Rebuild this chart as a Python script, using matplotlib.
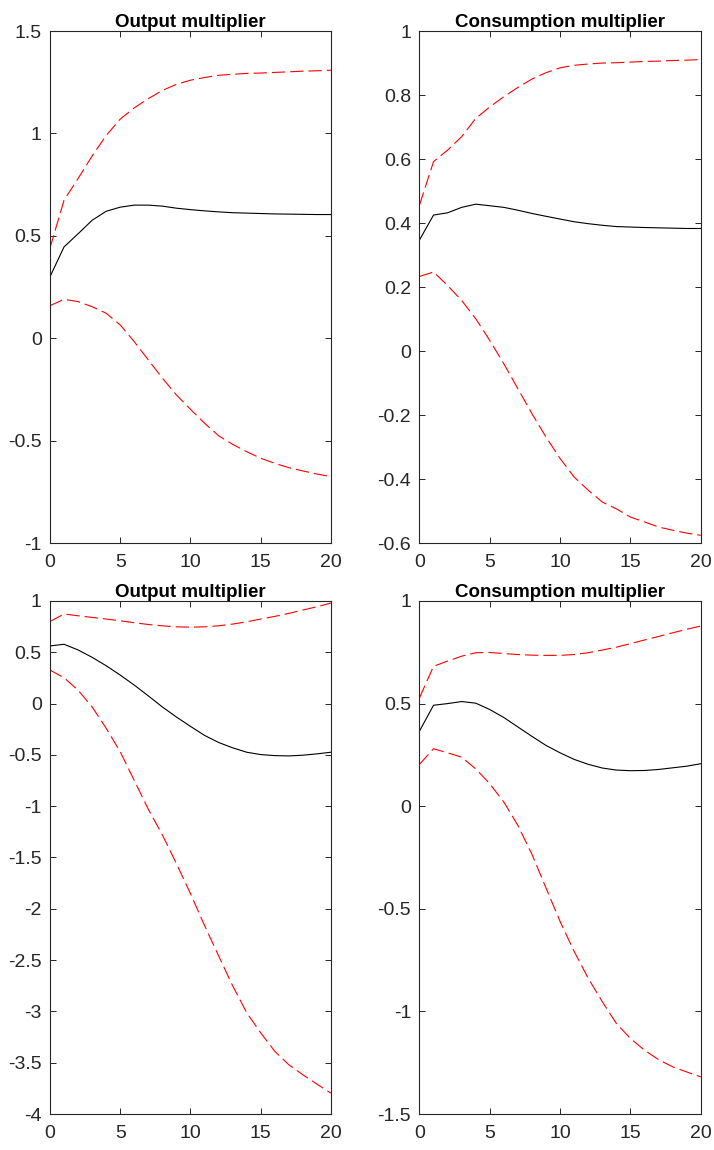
import matplotlib.pyplot as plt

plt.rcParams['font.family'] = ['Liberation Sans', 'DejaVu Sans']

steps = list(range(21))

# top left: output multiplier
out1_mid = [0.30, 0.446, 0.51, 0.576, 0.62, 0.64, 0.65, 0.65, 0.645, 0.635, 0.628,
            0.622, 0.617, 0.613, 0.611, 0.609, 0.607, 0.606, 0.605, 0.604, 0.604]
out1_hi = [0.44, 0.674, 0.78, 0.89, 0.99, 1.07, 1.125, 1.17, 1.21, 1.24, 1.26,
           1.273, 1.284, 1.289, 1.293, 1.295, 1.298, 1.301, 1.304, 1.306, 1.309]
out1_lo = [0.159, 0.19, 0.179, 0.154, 0.122, 0.065, -0.017, -0.106, -0.195, -0.277, -0.347,
           -0.415, -0.476, -0.518, -0.554, -0.586, -0.611, -0.632, -0.648, -0.663, -0.676]

# top right: consumption multiplier
con1_mid = [0.347, 0.425, 0.432, 0.449, 0.459, 0.454, 0.449, 0.44, 0.43, 0.421, 0.4125,
            0.404, 0.398, 0.393, 0.389, 0.3875, 0.386, 0.385, 0.384, 0.383, 0.383]
con1_hi = [0.456, 0.592, 0.628, 0.67, 0.727, 0.763, 0.795, 0.824, 0.85, 0.87, 0.885,
           0.893, 0.897, 0.90, 0.901, 0.903, 0.905, 0.906, 0.908, 0.909, 0.911]
con1_lo = [0.233, 0.247, 0.205, 0.158, 0.101, 0.033, -0.04, -0.118, -0.196, -0.269, -0.336,
           -0.394, -0.435, -0.472, -0.493, -0.519, -0.534, -0.55, -0.56, -0.569, -0.576]

# bottom left: output multiplier
out2_mid = [0.562, 0.578, 0.523, 0.451, 0.369, 0.278, 0.18, 0.075, -0.033, -0.131, -0.222,
            -0.31, -0.379, -0.431, -0.474, -0.497, -0.507, -0.51, -0.503, -0.49, -0.474]
out2_hi = [0.80, 0.873, 0.856, 0.84, 0.824, 0.807, 0.788, 0.771, 0.758, 0.748, 0.745,
           0.748, 0.758, 0.775, 0.797, 0.824, 0.85, 0.879, 0.912, 0.944, 0.98]
out2_lo = [0.327, 0.252, 0.131, -0.033, -0.24, -0.47, -0.75, -1.03, -1.28, -1.56, -1.853,
           -2.163, -2.458, -2.75, -3.013, -3.209, -3.389, -3.52, -3.618, -3.709, -3.797]

# bottom right: consumption multiplier
con2_mid = [0.366, 0.492, 0.50, 0.51, 0.502, 0.471, 0.432, 0.386, 0.34, 0.296, 0.26,
            0.228, 0.204, 0.186, 0.176, 0.173, 0.174, 0.179, 0.187, 0.195, 0.207]
con2_hi = [0.528, 0.682, 0.707, 0.731, 0.748, 0.749, 0.744, 0.739, 0.736, 0.735, 0.735,
           0.739, 0.748, 0.761, 0.775, 0.792, 0.81, 0.827, 0.845, 0.862, 0.878]
con2_lo = [0.204, 0.28, 0.26, 0.239, 0.182, 0.109, 0.02, -0.094, -0.235, -0.399, -0.562,
           -0.708, -0.839, -0.953, -1.059, -1.132, -1.189, -1.235, -1.27, -1.295, -1.319]

panels = [
    ('Output multiplier', out1_mid, out1_hi, out1_lo, (-1, 1.5), [-1, -0.5, 0, 0.5, 1, 1.5]),
    ('Consumption multiplier', con1_mid, con1_hi, con1_lo, (-0.6, 1), [-0.6, -0.4, -0.2, 0, 0.2, 0.4, 0.6, 0.8, 1]),
    ('Output multiplier', out2_mid, out2_hi, out2_lo, (-4, 1), [-4, -3.5, -3, -2.5, -2, -1.5, -1, -0.5, 0, 0.5, 1]),
    ('Consumption multiplier', con2_mid, con2_hi, con2_lo, (-1.5, 1), [-1.5, -1, -0.5, 0, 0.5, 1]),
]

boxes = [
    [0.0700, 0.5278, 0.3936, 0.4452],
    [0.5875, 0.5278, 0.3940, 0.4452],
    [0.0700, 0.0313, 0.3936, 0.4461],
    [0.5875, 0.0313, 0.3940, 0.4461],
]

fig = plt.figure(figsize=(7.14, 11.5), dpi=100)

for box, (title, mid, hi, lo, ylim, yticks) in zip(boxes, panels):
    ax = fig.add_axes(box)
    ax.plot(steps, mid, color='black', lw=0.8)
    ax.plot(steps, hi, color='red', lw=0.8, dashes=(12, 4.5))
    ax.plot(steps, lo, color='red', lw=0.8, dashes=(12, 4.5))
    ax.set_xlim(0, 20)
    ax.set_ylim(*ylim)
    ax.set_xticks([0, 5, 10, 15, 20])
    ax.set_yticks(yticks)
    ax.set_yticklabels([('%g' % v) for v in yticks])
    ax.set_title(title, fontsize=13.5, fontweight='bold', pad=3)
    ax.tick_params(direction='in', top=True, right=True, length=4, width=0.7,
                   labelsize=14, colors='#262626')
    ax.tick_params(axis='x', pad=8)
    ax.tick_params(axis='y', pad=6)
    for sp in ax.spines.values():
        sp.set_color('#262626')
        sp.set_linewidth(0.8)

fig.savefig('out.png', dpi=100)
